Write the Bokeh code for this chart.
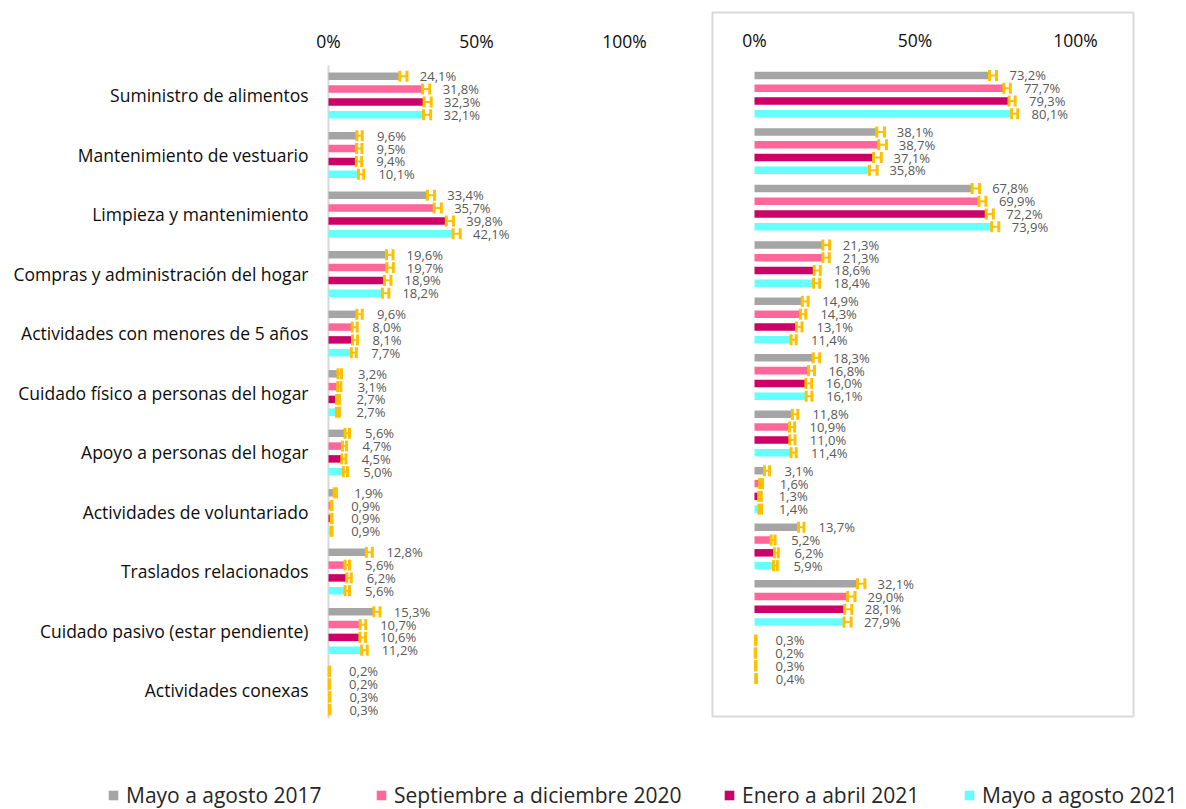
from bokeh.plotting import figure
from bokeh.models import Range1d, Legend, LegendItem, ColumnDataSource
from bokeh.embed import file_html
from bokeh.resources import INLINE
from bokeh.core.properties import value

categories = [
    "Suministro de alimentos",
    "Mantenimiento de vestuario",
    "Limpieza y mantenimiento",
    "Compras y administración del hogar",
    "Actividades con menores de 5 años",
    "Cuidado físico a personas del hogar",
    "Apoyo a personas del hogar",
    "Actividades de voluntariado",
    "Traslados relacionados",
    "Cuidado pasivo (estar pendiente)",
    "Actividades conexas",
]
series_names = ["Mayo a agosto 2017", "Septiembre a diciembre 2020",
                "Enero a abril 2021", "Mayo a agosto 2021"]
colors = ["#A5A5A5", "#FF6699", "#CC0066", "#66FFFF"]

# Left panel values (%)
left_2017 = [24.1, 9.6, 33.4, 19.6, 9.6, 3.2, 5.6, 1.9, 12.8, 15.3, 0.2]
left_sep2020 = [31.8, 9.5, 35.7, 19.7, 8.0, 3.1, 4.7, 0.9, 5.6, 10.7, 0.2]
left_ene2021 = [32.3, 9.4, 39.8, 18.9, 8.1, 2.7, 4.5, 0.9, 6.2, 10.6, 0.3]
left_may2021 = [32.1, 10.1, 42.1, 18.2, 7.7, 2.7, 5.0, 0.9, 5.6, 11.2, 0.3]

# Right panel values (%)
right_2017 = [73.2, 38.1, 67.8, 21.3, 14.9, 18.3, 11.8, 3.1, 13.7, 32.1, 0.3]
right_sep2020 = [77.7, 38.7, 69.9, 21.3, 14.3, 16.8, 10.9, 1.6, 5.2, 29.0, 0.2]
right_ene2021 = [79.3, 37.1, 72.2, 18.6, 13.1, 16.0, 11.0, 1.3, 6.2, 28.1, 0.3]
right_may2021 = [80.1, 35.8, 73.9, 18.4, 11.4, 16.1, 11.4, 1.4, 5.9, 27.9, 0.4]

# Error-bar widths (percentage points)
left_err_2017 = [2.4, 1.8, 2.4, 2.2, 1.8, 1.2, 1.5, 0.8, 2.0, 2.1, 0.2]
left_err_sep2020 = [2.4, 1.8, 2.4, 2.2, 1.7, 1.1, 1.4, 0.3, 1.5, 1.9, 0.2]
left_err_ene2021 = [2.4, 1.8, 2.4, 2.2, 1.7, 1.0, 1.4, 0.3, 1.5, 1.9, 0.2]
left_err_may2021 = [2.4, 1.8, 2.4, 2.2, 1.7, 1.0, 1.4, 0.3, 1.5, 1.9, 0.2]
right_err_2017 = [2.2, 2.4, 2.3, 2.1, 1.8, 2.0, 1.7, 1.6, 1.7, 2.3, 0.2]
right_err_sep2020 = [2.0, 2.4, 2.2, 2.0, 1.7, 1.9, 1.6, 0.9, 1.2, 2.3, 0.2]
right_err_ene2021 = [1.9, 2.4, 2.2, 1.9, 1.7, 1.8, 1.6, 0.8, 1.2, 2.2, 0.2]
right_err_may2021 = [1.9, 2.4, 2.2, 1.9, 1.6, 1.8, 1.6, 0.8, 1.2, 2.2, 0.2]

tick_values = [0, 50, 100]
tick_labels = ["0%", "50%", "100%"]

FONT = "Open Sans"
ERR = "#FFC000"
LABEL_COLOR = "#595959"
TEXT_COLOR = "#0d0d0d"
GRID_GRAY = "#D9D9D9"

W, H = 1186, 809

# Left panel scales: 0 % at x=328 px, 2.96 px per %; groups 59.5 px apart
# Right panel scales: 0 % at x=754 px, 3.21 px per %; groups 56.5 px apart
p = figure(width=W, height=H,
           x_range=Range1d(-110.81, 289.86),
           y_range=Range1d(12.0, -1.5966),
           x_axis_type=None, y_axis_type=None,
           output_backend="svg", toolbar_location=None,
           min_border=0, min_border_left=0, min_border_right=0,
           min_border_top=0, min_border_bottom=0)
p.extra_x_ranges = {"right": Range1d(-234.89, 134.58)}
p.extra_y_ranges = {"right": Range1d(12.6584, -1.6673)}
p.grid.visible = False
p.outline_line_color = None
p.background_fill_color = "white"
p.border_fill_color = "white"


def fmt(v):
    return f"{v:.1f}".replace(".", ",") + "%"


def draw_panel(series, errs, slot, bar_h, xr="default", yr="default"):
    rends = []
    n = len(categories)
    kw = dict(x_range_name=xr, y_range_name=yr)
    for k, (vals, err, col) in enumerate(zip(series, errs, colors)):
        ys = [i + (k - 1.5) * slot for i in range(n)]
        src = ColumnDataSource(dict(
            y=ys, v=vals, hi=[a + b for a, b in zip(vals, err)],
            lab=[fmt(v) for v in vals]))
        r = p.hbar(y="y", left=0, right="v", height=bar_h, fill_color=col,
                   line_color=None, source=src, **kw)
        p.segment(x0="v", x1="hi", y0="y", y1="y", line_color=ERR,
                  line_width=2, source=src, **kw)
        for xc in ("v", "hi"):
            p.rect(x=xc, y="y", width=3, height=11, width_units="screen",
                   height_units="screen", fill_color=ERR, line_color=None,
                   source=src, **kw)
        p.text(x="v", y="y", text="lab", x_offset=20, text_baseline="middle",
               text_align="left", text_font=value(FONT),
               text_font_size="13px", text_color=LABEL_COLOR, source=src, **kw)
        rends.append(r)
    return rends


# ---------------- Left panel ----------------
# vertical axis line of the left panel
p.segment(x0=[0], x1=[0], y0=[-0.504], y1=[10.47], line_color=GRID_GRAY,
          line_width=2)
left_r = draw_panel([left_2017, left_sep2020, left_ene2021, left_may2021],
                    [left_err_2017, left_err_sep2020, left_err_ene2021, left_err_may2021],
                    slot=0.215, bar_h=0.126)
# category labels (left axis)
p.text(x=[0] * len(categories), y=list(range(len(categories))), text=categories,
       x_offset=-20, text_align="right", text_baseline="middle",
       text_font=value(FONT), text_font_size="17.5px", text_color=TEXT_COLOR)
# top tick labels (left panel)
p.text(x=tick_values, y=[-0.924] * len(tick_values), text=tick_labels,
       text_align="center", text_baseline="middle", text_font=value(FONT),
       text_font_size="17.5px", text_color=TEXT_COLOR)

# ---------------- Right panel ----------------
p.quad(left=[-13.08], right=[118.07], top=[-1.455], bottom=[11.012],
       fill_color=None, line_color=GRID_GRAY, line_width=2,
       x_range_name="right", y_range_name="right")
right_r = draw_panel([right_2017, right_sep2020, right_ene2021, right_may2021],
                     [right_err_2017, right_err_sep2020, right_err_ene2021, right_err_may2021],
                     slot=0.2265, bar_h=0.133, xr="right", yr="right")
p.text(x=tick_values, y=[-0.959] * len(tick_values), text=tick_labels,
       text_align="center", text_baseline="middle", text_font=value(FONT),
       text_font_size="17.5px", text_color=TEXT_COLOR,
       x_range_name="right", y_range_name="right")


# ---------------- Legend ----------------
def add_legend(r, label, x, y):
    lg = Legend(items=[LegendItem(label=label, renderers=[r])],
                location=(x, y), orientation="horizontal",
                glyph_width=12, glyph_height=12, label_standoff=7,
                label_text_font=FONT, label_text_font_size="21px",
                label_text_color="#262626", label_text_baseline="middle",
                padding=0, margin=0, spacing=0,
                border_line_color=None, background_fill_alpha=0)
    p.add_layout(lg, "center")


add_legend(left_r[0], series_names[0], 107, 0)
add_legend(left_r[1], series_names[1], 375, 0)
add_legend(right_r[2], series_names[2], 723, 0)
add_legend(right_r[3], series_names[3], 963, 0)

open("out.html", "w").write(file_html(p, INLINE))
